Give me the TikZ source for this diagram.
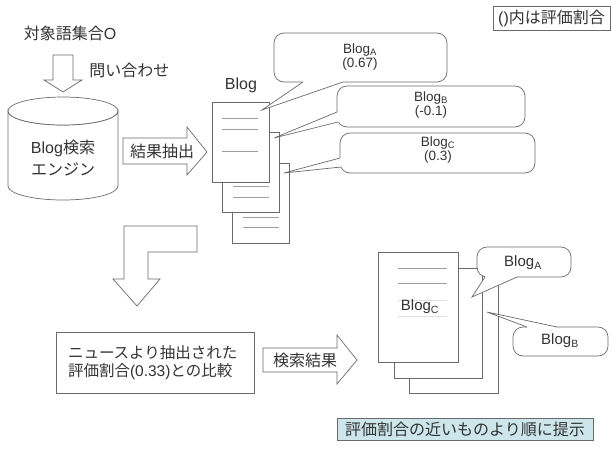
\documentclass[tikz,border=0pt]{standalone}
\usepackage{fontspec}
\setmainfont{Liberation Sans}
\newfontfamily\jp{Noto Sans CJK JP}
\newcommand\J[1]{{\jp #1}}
\usetikzlibrary{calc}
\definecolor{ln}{HTML}{6A6A6A}
\definecolor{tx}{HTML}{333333}
\definecolor{boxblue}{RGB}{205,230,235}
\newcommand\callout[5]{%
  \fill[white] ($(#1)+(#4)$) -- (#1) -- (#3) -- (#2) -- ($(#2)+(#5)$) -- cycle;
  \draw[draw=ln] (#1) -- (#3) -- (#2);}
\begin{document}
\begin{tikzpicture}[x=1pt,y=-1pt,line width=0.7pt,
  every node/.style={text=tx,inner sep=0pt},
  shp/.style={draw=ln,fill=white,line join=miter},
  doc/.style={draw=ln,fill=white},
  docline/.style={draw=gray!75,line width=0.6pt},
  faint/.style={draw=gray!25,line width=0.5pt},
  bubble/.style={draw=ln,fill=white,rounded corners=10pt},
  lbl/.style={font=\fontsize{16}{22}\selectfont},
  mid/.style={font=\fontsize{15}{18}\selectfont},
  small/.style={font=\fontsize{13.5}{12.5}\selectfont},
]
\useasboundingbox (0,0) rectangle (613,448);

% legend
\node[draw=ln,minimum width=117pt,minimum height=24pt,font=\fontsize{16}{18}\selectfont] (legend) at (551.5,18) {()\J{内は評価割合}};

% query
\node[lbl] (query) at (70,33) {\J{対象語集合}O};
\draw[shp] (53,55) -- (73,55) -- (73,80) -- (82,80) -- (63,92) -- (44,80) -- (53,80) -- cycle;
\node[lbl,anchor=west] (ask) at (89,70) {\J{問い合わせ}};

% cylinder
\path[shp] (8,111) -- (8,186) arc[start angle=180,end angle=0,x radius=55,y radius=14]
  -- (118,111) arc[start angle=0,end angle=180,x radius=55,y radius=14] -- cycle;
\draw[shp] (63,111) ellipse[x radius=55,y radius=14];
\node[lbl,align=center] (engine) at (63,158) {Blog\J{検索}\\\J{エンジン}};

% extract arrow
\draw[shp] (123,138) -- (187,138) -- (187,127) -- (207,152) -- (187,175) -- (187,164) -- (123,164) -- cycle;
\node[lbl] (extract) at (162,151) {\J{結果抽出}};

% top documents
\node[lbl] (blog) at (241,85) {Blog};
\draw[doc] (232,163) rectangle (289,243);
\draw[docline] (243,217) -- (279,217) (243,227) -- (279,227);
\draw[doc] (222,132) rectangle (279,212);
\draw[docline] (233,186) -- (269,186) (233,197) -- (269,197);
\draw[doc] (212,102) rectangle (269,182);
\draw[docline] (222,118) -- (258,118) (222,129) -- (258,129) (222,151) -- (258,151);

% top bubbles
\node[bubble,minimum width=173pt,minimum height=49pt] (bA) at (360.5,57.5) {};
\node[bubble,minimum width=188pt,minimum height=41pt] (bB) at (431,106.5) {};
\node[bubble,minimum width=195pt,minimum height=40pt] (bC) at (437.5,153) {};
\coordinate (tA) at (262,110);
\coordinate (tB) at (274,138);
\coordinate (tC) at (284,173);
\callout{303,82}{343,82}{tA}{0,-4}{0,-4}
\callout{337,112}{338,122}{tB}{4,0}{4,0}
\callout{340,158}{341,167}{tC}{4,0}{4,-1}
\node[small,align=center] (lA) at (360,57) {Blog\textsubscript{A}\\(0.67)};
\node[small,align=center] (lB) at (431,105) {Blog\textsubscript{B}\\(-0.1)};
\node[small,align=center] (lC) at (438,150) {Blog\textsubscript{C}\\(0.3)};

% bent arrow
\draw[shp] (197,226) -- (124,226) -- (124,279) -- (113,279) -- (137,306) -- (160,279) -- (148,279) -- (148,252) -- (197,252) -- cycle;

% comparison box
\node[draw=ln,minimum width=198pt,minimum height=61pt,text width=174pt,inner xsep=12pt,align=left,
  font=\fontsize{15.5}{18}\selectfont] (cmp) at (155,362.5)
  {\J{ニュースより抽出された}\\\J{評価割合}(0.33)\J{との比較}};

% result arrow
\draw[shp] (263,348) -- (337,348) -- (337,335) -- (357,360) -- (337,384) -- (337,372) -- (263,372) -- cycle;
\node[lbl] (res) at (305,360) {\J{検索結果}};

% bottom documents
\draw[doc] (409,280) rectangle (498,393);
\draw[doc] (394,268) rectangle (482,378);
\draw[doc] (378,252) rectangle (458,362);
\draw[docline] (398,268) -- (447,268) (398,283) -- (447,283);
\draw[faint] (398,300) -- (447,300) (398,316) -- (447,316);
\node[mid] (lCc) at (420,307) {Blog\textsubscript{C}};

% bottom bubbles
\node[bubble,minimum width=94pt,minimum height=30pt] (cA) at (524,262) {};
\node[bubble,minimum width=95pt,minimum height=29pt] (cB) at (560.5,341.5) {};
\coordinate (sA) at (472,297);
\coordinate (sB) at (487,312);
\callout{485,277}{517,277}{sA}{0,-4}{0,-4}
\callout{527,327}{557,327}{sB}{0,4}{0,4}
\node[mid] (mA) at (523,263) {Blog\textsubscript{A}};
\node[mid] (mB) at (560,341) {Blog\textsubscript{B}};

% result box
\node[draw=ln,fill=boxblue,minimum width=256pt,minimum height=22pt,lbl] (present) at (465,429) {\J{評価割合の近いものより順に提示}};
\end{tikzpicture}
\end{document}
